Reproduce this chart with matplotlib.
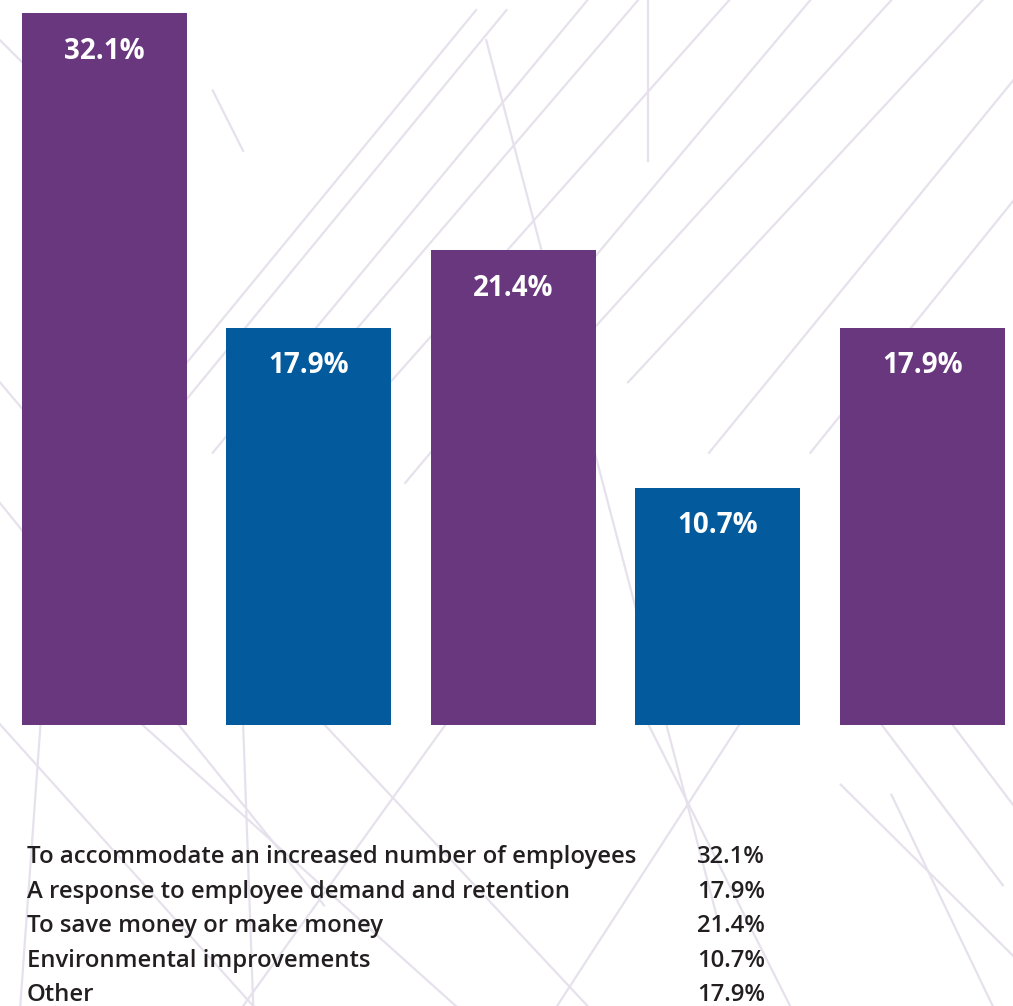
import matplotlib.pyplot as plt
from matplotlib.lines import Line2D

reasons = ["To accommodate an increased number of employees",
           "A response to employee demand and retention",
           "To save money or make money",
           "Environmental improvements",
           "Other"]
shares = [32.1, 17.9, 21.4, 10.7, 17.9]
bar_colors = ["#68377e", "#035a9c", "#68377e", "#035a9c", "#68377e"]

fig = plt.figure(figsize=(10.13, 10.06), dpi=100)
fig.patch.set_facecolor("white")

# faint line pattern in the background
line_col = "#e6e1ec"
bg_lines = [
    [(0.00, 0.96), (0.06, 0.90)], [(0.47, 0.99), (0.03, 0.45)],
    [(0.50, 0.99), (0.10, 0.50)], [(0.58, 1.00), (0.21, 0.55)],
    [(0.63, 1.00), (0.29, 0.60)], [(0.72, 1.00), (0.35, 0.58)],
    [(0.80, 1.00), (0.40, 0.52)], [(0.88, 1.00), (0.52, 0.60)],
    [(0.97, 1.00), (0.62, 0.62)], [(1.00, 0.92), (0.70, 0.55)],
    [(1.00, 0.80), (0.80, 0.55)], [(0.48, 0.96), (0.71, 0.08)],
    [(0.0, 0.62), (0.10, 0.50)], [(0.0, 0.50), (0.32, 0.10)],
    [(0.0, 0.28), (0.25, 0.00)], [(0.14, 0.28), (0.45, 0.00)],
    [(0.32, 0.28), (0.58, 0.00)], [(0.44, 0.28), (0.24, 0.00)],
    [(0.64, 0.28), (0.78, 0.00)], [(0.73, 0.28), (0.55, 0.00)],
    [(0.87, 0.28), (0.99, 0.12)], [(0.83, 0.22), (1.00, 0.05)],
    [(0.88, 0.21), (0.98, 0.00)], [(0.04, 0.28), (0.02, 0.00)],
    [(0.24, 0.28), (0.25, 0.00)], [(0.94, 0.28), (1.00, 0.20)],
    [(0.64, 1.00), (0.64, 0.84)], [(0.21, 0.91), (0.24, 0.85)],
]
for (x0, y0), (x1, y1) in bg_lines:
    fig.add_artist(Line2D([x0, x1], [y0, y1], color=line_col, lw=1.6,
                          transform=fig.transFigure, zorder=0))

ax = fig.add_axes([0, 0.2793, 1, 0.7207])
ax.patch.set_alpha(0)
x = range(len(shares))
ax.bar(x, shares, width=0.807, color=bar_colors, zorder=2)
ax.set_xlim(-0.511, 4.443)
ax.set_ylim(0, 32.1 * 725 / 712)
ax.axis("off")

for i, v in enumerate(shares):
    ax.annotate(f"{v}%", (i, v), xytext=(0, -38), textcoords="offset pixels",
                ha="center", va="center", color="white", fontsize=20,
                fontweight="bold", family="Open Sans", zorder=3)

# table of reasons under the bars
for k, (r, v) in enumerate(zip(reasons, shares)):
    y = 1 - (857 + 34.6 * k) / 1006
    fig.text(27 / 1013, y, r, ha="left", va="center", fontsize=17.2,
             fontweight="semibold", family="Open Sans", color="#231f20")
    fig.text(697 / 1013, y, f"{v}%", ha="left", va="center", fontsize=17.2,
             fontweight="semibold", family="Open Sans", color="#231f20")

fig.savefig("out.png", dpi=100)
